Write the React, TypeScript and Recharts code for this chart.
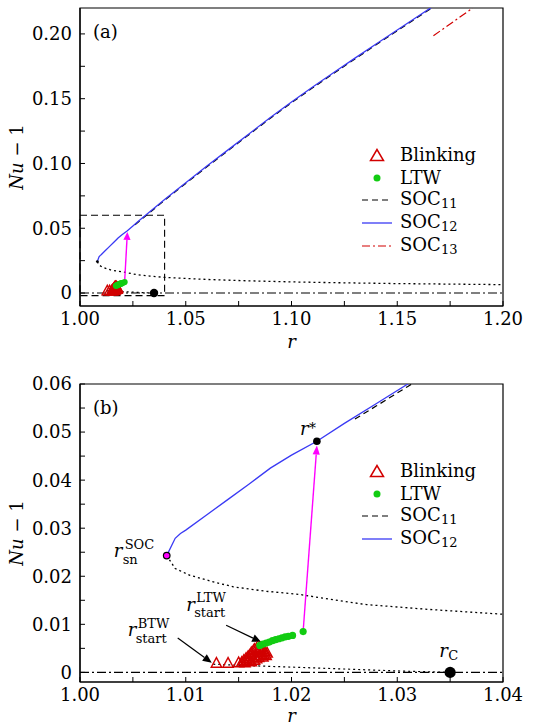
import React from "react";
import {
  ComposedChart,
  Line,
  Scatter,
  XAxis,
  YAxis,
  ReferenceArea,
  ReferenceDot,
  ReferenceLine,
  Legend,
} from "recharts";

const FONT = '"DejaVu Serif", "Liberation Serif", serif';
const FS = 18;
const SS = 13;
const BLUE = "#3a3af4";
const RED = "#d20000";
const GREEN = "#12cc12";
const MAGENTA = "#ff00ff";

// values (r, Nu-1)
const soc12R = [1.0082, 1.009, 1.0095, 1.01, 1.012, 1.014, 1.016, 1.018, 1.02, 1.0224, 1.025, 1.028, 1.031, 1.04, 1.05, 1.06, 1.07, 1.08, 1.09, 1.1, 1.11, 1.12, 1.13, 1.14, 1.15, 1.16, 1.166];
const soc12Nu = [0.0243, 0.0279, 0.0289, 0.0296, 0.0328, 0.036, 0.0392, 0.0425, 0.0452, 0.0481, 0.0518, 0.0559, 0.06, 0.0722, 0.0852, 0.098, 0.1105, 0.123, 0.1355, 0.1475, 0.159, 0.1702, 0.1813, 0.1922, 0.203, 0.2138, 0.2203];

const soc11R = [1.026, 1.028, 1.031, 1.04, 1.05, 1.06, 1.07, 1.08, 1.09, 1.1, 1.11, 1.12, 1.13, 1.14, 1.15, 1.16, 1.166];
const soc11Nu = [0.0527, 0.0554, 0.0595, 0.0716, 0.0846, 0.0974, 0.1099, 0.1224, 0.1349, 0.1469, 0.1584, 0.1696, 0.1807, 0.1916, 0.2024, 0.2132, 0.2197];

const soc13R = [1.1671, 1.1857];
const soc13Nu = [0.1986, 0.22];

// unstable branch (dotted)
const unstR = [1.0082, 1.009, 1.0104, 1.0125, 1.0145, 1.0175, 1.0208, 1.024, 1.0271, 1.033, 1.04, 1.06, 1.08, 1.1, 1.12, 1.15, 1.2];
const unstNu = [0.0243, 0.0216, 0.0202, 0.0189, 0.0178, 0.0169, 0.0162, 0.0151, 0.0141, 0.0131, 0.0121, 0.0105, 0.0094, 0.0086, 0.008, 0.0073, 0.0065];

// dotted branch from blinking onset down to r_C
const btwR = [1.0126, 1.016, 1.02, 1.025, 1.03, 1.035];
const btwNu = [0.0017, 0.0014, 0.0011, 0.0007, 0.0003, 0];

const zeroR = [1.0, 1.2];
const zeroNu = [0, 0];

const ltwR = [1.017, 1.0173, 1.0176, 1.0179, 1.0182, 1.0185, 1.0188, 1.0191, 1.0194, 1.0197, 1.0201, 1.0211];
const ltwNu = [0.0056, 0.0059, 0.0061, 0.0063, 0.0066, 0.0068, 0.007, 0.0072, 0.0074, 0.0075, 0.0077, 0.0085];

const blinkR = [1.0129, 1.014, 1.015, 1.0153, 1.0155, 1.0156, 1.0157, 1.0158, 1.0159, 1.016, 1.0161, 1.0162, 1.0162, 1.0163, 1.0164, 1.0165, 1.0165, 1.0166, 1.0167, 1.0167, 1.0168, 1.0169, 1.0169, 1.017, 1.0171, 1.0171, 1.0172, 1.0173, 1.0173, 1.0174, 1.0175, 1.0176, 1.0177];
const blinkNu = [0.002, 0.002, 0.0021, 0.0022, 0.0026, 0.0021, 0.003, 0.0024, 0.0034, 0.0027, 0.0038, 0.0023, 0.0042, 0.0031, 0.0046, 0.0026, 0.0049, 0.0035, 0.0051, 0.0029, 0.0041, 0.0052, 0.0032, 0.0046, 0.0036, 0.0052, 0.0042, 0.0033, 0.0048, 0.0038, 0.0044, 0.0036, 0.0041];

// special points
const rSn = [1.0082, 0.0243];
const rStar = [1.0224, 0.0481];
const rC = [1.035, 0];
const jumpFrom = [1.0211, 0.0085];
const jumpTo = [1.0224, 0.0472];
const ltwArrow = [[1.01382, 0.00979], [1.01713, 0.00632]];
const btwArrow = [[1.00924, 0.00715], [1.01246, 0.00201]];

// ticks
const xTicksA = [1.0, 1.025, 1.05, 1.075, 1.1, 1.125, 1.15, 1.175, 1.2];
const xMajorA = [1.0, 1.05, 1.1, 1.15, 1.2];
const yTicksA = [0, 0.025, 0.05, 0.075, 0.1, 0.125, 0.15, 0.175, 0.2];
const yMajorA = [0, 0.05, 0.1, 0.15, 0.2];
const xTicksB = [1.0, 1.005, 1.01, 1.015, 1.02, 1.025, 1.03, 1.035, 1.04];
const xMajorB = [1.0, 1.01, 1.02, 1.03, 1.04];
const yTicksB = [0, 0.005, 0.01, 0.015, 0.02, 0.025, 0.03, 0.035, 0.04, 0.045, 0.05, 0.055, 0.06];
const yMajorB = [0, 0.01, 0.02, 0.03, 0.04, 0.05, 0.06];

const pts = (rs: number[], ys: number[]) => rs.map((r, i) => ({ r, nu: ys[i] }));
const isIn = (v: number, arr: number[]) => arr.some((m) => Math.abs(m - v) < 1e-9);

const soc12 = pts(soc12R, soc12Nu);
const soc11 = pts(soc11R, soc11Nu);
const soc13 = pts(soc13R, soc13Nu);
const unstable = pts(unstR, unstNu);
const btw = pts(btwR, btwNu);
const zero = pts(zeroR, zeroNu);
const ltw = pts(ltwR, ltwNu);
const blink = pts(blinkR, blinkNu);

const Tri = (p: any) => {
  const { cx, cy } = p;
  const s = 5.2;
  return (
    <polygon
      points={`${cx},${cy - s} ${cx - s},${cy + s * 0.85} ${cx + s},${cy + s * 0.85}`}
      fill="none"
      stroke={RED}
      strokeWidth={1.4}
    />
  );
};

const arrowShape = (color: string, len: number, half: number, w: number) => (p: any) => {
  const { x1, y1, x2, y2 } = p;
  const dx = x2 - x1;
  const dy = y2 - y1;
  const L = Math.hypot(dx, dy) || 1;
  const ux = dx / L;
  const uy = dy / L;
  const bx = x2 - ux * len;
  const by = y2 - uy * len;
  return (
    <g>
      <line x1={x1} y1={y1} x2={bx} y2={by} stroke={color} strokeWidth={w} />
      <polygon
        points={`${x2},${y2} ${bx - uy * half},${by + ux * half} ${bx + uy * half},${by - ux * half}`}
        fill={color}
      />
    </g>
  );
};

// italic r with optional super/subscript, one text element
function Sym({ x, y, sup, sub, supDx = 9, supDy = -8.5, subDx = 9, subDy = 6.5 }: any) {
  return (
    <text x={x} y={y} fontFamily={FONT} fill="#000">
      <tspan fontSize={FS} fontStyle="italic">r</tspan>
      {sup && <tspan x={x + supDx} y={y + supDy} fontSize={sup === "*" ? 14 : SS}>{sup}</tspan>}
      {sub && <tspan x={x + subDx} y={y + subDy} fontSize={SS}>{sub}</tspan>}
    </text>
  );
}

const YLabel = (props: any) => {
  const vb = props.viewBox || { x: 0, y: 0, width: 80, height: 300 };
  const cx = vb.x + 16;
  const cy = vb.y + vb.height / 2;
  return (
    <text
      x={cx}
      y={cy}
      transform={`rotate(-90 ${cx} ${cy})`}
      textAnchor="middle"
      dominantBaseline="central"
      fontFamily={FONT}
      fontSize={FS}
      fill="#000"
    >
      <tspan fontStyle="italic">Nu</tspan>
      <tspan>{" \u2212 1"}</tspan>
    </text>
  );
};

const XLabel = (off: number) => (props: any) => {
  const vb = props.viewBox || { x: 80, y: 0, width: 423, height: 50 };
  return (
    <text x={vb.x + vb.width / 2} y={vb.y + vb.height - off} textAnchor="middle" fontFamily={FONT} fontSize={FS} fontStyle="italic" fill="#000">
      r
    </text>
  );
};

type Item = { name: string; sub?: string; kind: "tri" | "dot" | "dash" | "solid" | "dashdot" };
const legendA: Item[] = [
  { name: "Blinking", kind: "tri" },
  { name: "LTW", kind: "dot" },
  { name: "SOC", sub: "11", kind: "dash" },
  { name: "SOC", sub: "12", kind: "solid" },
  { name: "SOC", sub: "13", kind: "dashdot" },
];
const legendB = legendA.slice(0, 4);

function LegendBox({ items }: { items: Item[] }) {
  return (
    <div style={{ fontFamily: FONT, fontSize: FS, color: "#000" }}>
      {items.map((it) => (
        <div key={it.name + (it.sub || "")} style={{ display: "flex", alignItems: "center", height: 22.6 }}>
          <svg width={32} height={22} style={{ marginRight: 7 }}>
            {it.kind === "tri" && (
              <polygon points="16,5.5 9.5,16.5 22.5,16.5" fill="none" stroke={RED} strokeWidth={1.5} />
            )}
            {it.kind === "dot" && <circle cx={16} cy={11} r={3.5} fill={GREEN} />}
            {it.kind === "dash" && <line x1={1} x2={31} y1={11} y2={11} stroke="#000" strokeWidth={1.2} strokeDasharray="6 4" />}
            {it.kind === "solid" && <line x1={1} x2={31} y1={11} y2={11} stroke={BLUE} strokeWidth={1.3} />}
            {it.kind === "dashdot" && <line x1={1} x2={31} y1={11} y2={11} stroke={RED} strokeWidth={1.2} strokeDasharray="8 3 2 3" />}
          </svg>
          <span style={{ lineHeight: "22px" }}>
            {it.name}
            {it.sub && <span style={{ fontSize: SS, position: "relative", top: 3 }}>{it.sub}</span>}
          </span>
        </div>
      ))}
    </div>
  );
}

type Cfg = {
  tag: string;
  height: number;
  top: number;
  xAxisH: number;
  tickMarginX: number;
  rOff: number;
  xDomain: [number, number];
  yDomain: [number, number];
  xTicks: number[];
  xMajor: number[];
  yTicks: number[];
  yMajor: number[];
  legend: Item[];
  legendTop: number;
  zoomed: boolean;
};

function Panel({ c }: { c: Cfg }) {
  const tick = { fill: "#000", fontSize: FS, fontFamily: FONT };
  return (
    <ComposedChart width={545} height={c.height} margin={{ top: c.top, right: 42, bottom: 0, left: 0 }}>
      <XAxis
        type="number"
        dataKey="r"
        domain={c.xDomain}
        ticks={c.xTicks}
        interval={0}
        allowDataOverflow
        height={c.xAxisH}
        tickSize={-5}
        tickMargin={c.tickMarginX}
        tick={tick}
        tickFormatter={(v: number) => (isIn(v, c.xMajor) ? v.toFixed(2) : "")}
        axisLine={{ stroke: "#000", strokeWidth: 1.2 }}
        tickLine={{ stroke: "#000" }}
        label={{ content: XLabel(c.rOff) }}
      />
      <YAxis
        type="number"
        dataKey="nu"
        domain={c.yDomain}
        ticks={c.yTicks}
        interval={0}
        allowDataOverflow
        width={80}
        tickSize={-5}
        tickMargin={13}
        tick={tick}
        tickFormatter={(v: number) => (isIn(v, c.yMajor) ? (v === 0 ? "0" : v.toFixed(2)) : "")}
        axisLine={{ stroke: "#000", strokeWidth: 1.2 }}
        tickLine={{ stroke: "#000" }}
        label={{ content: YLabel }}
      />
      {!c.zoomed && (
        <ReferenceArea x1={1.0} x2={1.04} y1={-0.002} y2={0.06} fill="none" stroke="#000" strokeWidth={1.1} strokeDasharray="7 4" />
      )}
      <Line data={zero} dataKey="nu" stroke="#000" strokeWidth={1.1} strokeDasharray="9 3 2 3" dot={false} isAnimationActive={false} legendType="none" />
      <Line data={btw} dataKey="nu" stroke="#000" strokeWidth={1.2} strokeDasharray="2 3" dot={false} isAnimationActive={false} legendType="none" />
      <Line data={unstable} dataKey="nu" stroke="#000" strokeWidth={1.3} strokeDasharray="2 3" dot={false} isAnimationActive={false} legendType="none" />
      <Line data={soc11} dataKey="nu" stroke="#000" strokeWidth={1.2} strokeDasharray="6 4" dot={false} isAnimationActive={false} legendType="none" />
      <Line data={soc12} dataKey="nu" stroke={BLUE} strokeWidth={1.3} dot={false} isAnimationActive={false} legendType="none" />
      <Line data={soc13} dataKey="nu" stroke={RED} strokeWidth={1.2} strokeDasharray="8 3 2 3" dot={false} isAnimationActive={false} legendType="none" />
      <ReferenceLine
        segment={[{ x: jumpFrom[0], y: jumpFrom[1] }, { x: jumpTo[0], y: jumpTo[1] }]}
        shape={arrowShape(MAGENTA, c.zoomed ? 9 : 8, 3.6, 1.4)}
      />
      <Scatter data={blink} dataKey="nu" shape={Tri} isAnimationActive={false} legendType="none" />
      <Scatter
        data={ltw}
        dataKey="nu"
        shape={(p: any) => <circle cx={p.cx} cy={p.cy} r={c.zoomed ? 3.6 : 3.1} fill={GREEN} />}
        isAnimationActive={false}
        legendType="none"
      />
      <ReferenceDot x={rC[0]} y={rC[1]} r={c.zoomed ? 5.6 : 4.2} fill="#000" stroke="none" />
      {!c.zoomed && <ReferenceDot x={rSn[0]} y={rSn[1]} r={1.4} fill="#000" stroke="none" />}
      {c.zoomed && (
        <ReferenceLine
          segment={[{ x: ltwArrow[0][0], y: ltwArrow[0][1] }, { x: ltwArrow[1][0], y: ltwArrow[1][1] }]}
          shape={arrowShape("#000", 9, 4, 1.2)}
        />
      )}
      {c.zoomed && (
        <ReferenceLine
          segment={[{ x: btwArrow[0][0], y: btwArrow[0][1] }, { x: btwArrow[1][0], y: btwArrow[1][1] }]}
          shape={arrowShape("#000", 9, 4, 1.2)}
        />
      )}
      {c.zoomed && (
        <ReferenceDot
          x={rSn[0]}
          y={rSn[1]}
          shape={(p: any) => (
            <g>
              <circle cx={p.cx} cy={p.cy} r={3.3} fill={MAGENTA} stroke="#000" strokeWidth={1.2} />
              <Sym x={p.cx - 53} y={p.cy + 1.5} sup="SOC" sub="sn" supDx={11} subDx={9} />
            </g>
          )}
        />
      )}
      {c.zoomed && (
        <ReferenceDot
          x={rStar[0]}
          y={rStar[1]}
          shape={(p: any) => (
            <g>
              <circle cx={p.cx} cy={p.cy} r={3.8} fill="#000" />
              <Sym x={p.cx - 17} y={p.cy - 6} sup="*" supDx={9} supDy={-2} />
            </g>
          )}
        />
      )}
      {c.zoomed && (
        <ReferenceDot
          x={ltwArrow[0][0]}
          y={ltwArrow[0][1]}
          r={0}
          shape={(p: any) => <Sym x={p.cx - 40} y={p.cy - 14.5} sup="LTW" sub="start" supDx={10} subDx={8} />}
        />
      )}
      {c.zoomed && (
        <ReferenceDot
          x={btwArrow[0][0]}
          y={btwArrow[0][1]}
          r={0}
          shape={(p: any) => <Sym x={p.cx - 50} y={p.cy - 2} sup="BTW" sub="start" supDx={10} subDx={8} />}
        />
      )}
      {c.zoomed && (
        <ReferenceDot
          x={rC[0]}
          y={rC[1]}
          r={0}
          shape={(p: any) => (
            <text x={p.cx - 11} y={p.cy - 15} fontFamily={FONT} fill="#000">
              <tspan fontSize={FS} fontStyle="italic">r</tspan>
              <tspan x={p.cx - 2} y={p.cy - 12} fontSize={SS}>C</tspan>
            </text>
          )}
        />
      )}
      <ReferenceDot
        x={c.xDomain[0]}
        y={c.yDomain[1]}
        r={0}
        shape={(p: any) => (
          <text x={p.cx + 13} y={p.cy + 30} fontFamily={FONT} fontSize={FS} fill="#000">
            {c.tag}
          </text>
        )}
      />
      <ReferenceArea x1={c.xDomain[0]} x2={c.xDomain[1]} y1={c.yDomain[0]} y2={c.yDomain[1]} fill="none" stroke="#000" strokeWidth={1.2} />
      <Legend
        layout="vertical"
        align="center"
        verticalAlign="middle"
        wrapperStyle={{ left: 361, top: c.legendTop, width: 150 }}
        content={() => <LegendBox items={c.legend} />}
      />
    </ComposedChart>
  );
}

const panelA: Cfg = {
  tag: "(a)",
  height: 360,
  top: 8,
  xAxisH: 54,
  tickMarginX: 11,
  rOff: 12,
  xDomain: [1.0, 1.2],
  yDomain: [-0.01, 0.22],
  xTicks: xTicksA,
  xMajor: xMajorA,
  yTicks: yTicksA,
  yMajor: yMajorA,
  legend: legendA,
  legendTop: 144,
  zoomed: false,
};

const panelB: Cfg = {
  tag: "(b)",
  height: 367,
  top: 24,
  xAxisH: 45,
  tickMarginX: 11,
  rOff: 5,
  xDomain: [1.0, 1.04],
  yDomain: [-0.002, 0.06],
  xTicks: xTicksB,
  xMajor: xMajorB,
  yTicks: yTicksB,
  yMajor: yMajorB,
  legend: legendB,
  legendTop: 100,
  zoomed: true,
};

export default function App() {
  return (
    <div style={{ position: "absolute", left: 0, top: 0, width: 545, height: 727, background: "#fff" }}>
      <div style={{ position: "absolute", left: 0, top: 0 }}>
        <Panel c={panelA} />
      </div>
      <div style={{ position: "absolute", left: 0, top: 360 }}>
        <Panel c={panelB} />
      </div>
    </div>
  );
}
